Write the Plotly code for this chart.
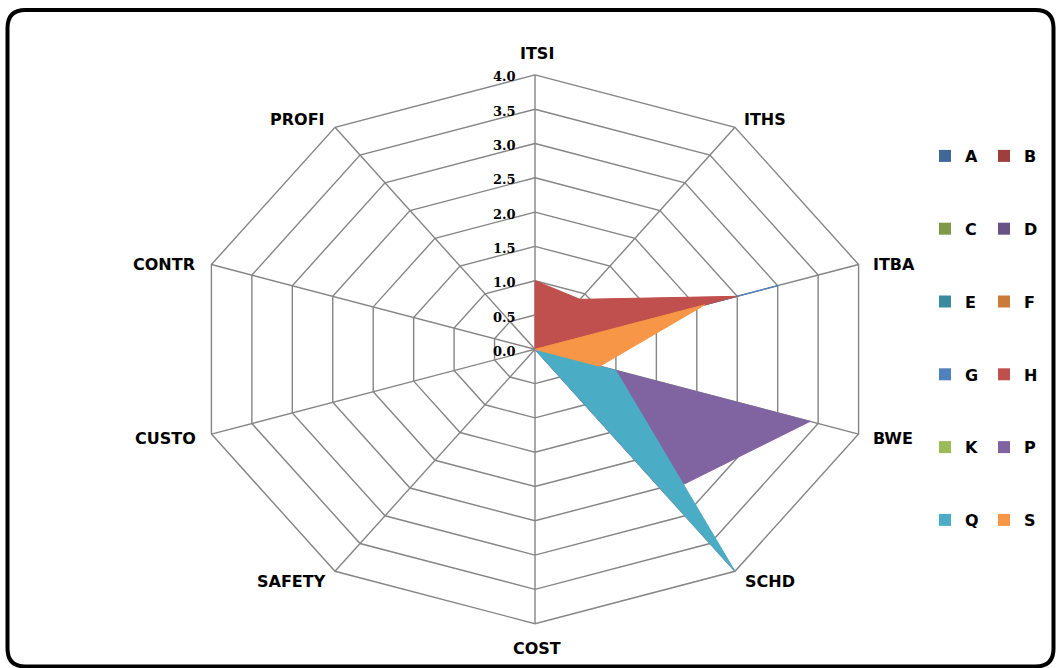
import math
import plotly.graph_objects as go

# ---- data -------------------------------------------------------------
categories = ["ITSI", "ITHS", "ITBA", "BWE", "SCHD", "COST", "SAFETY", "CUSTO", "CONTR", "PROFI"]
radial_ticks = [0.0, 0.5, 1.0, 1.5, 2.0, 2.5, 3.0, 3.5, 4.0]
tick_labels = ["0.0", "0.5", "1.0", "1.5", "2.0", "2.5", "3.0", "3.5", "4.0"]

series_names = ["A", "B", "C", "D", "E", "F", "G", "H", "K", "P", "Q", "S"]
A = [0, 0, 0, 0, 0, 0, 0, 0, 0, 0]
B = [0, 0, 0, 0, 0, 0, 0, 0, 0, 0]
C = [0, 0, 0, 0, 0, 0, 0, 0, 0, 0]
D = [0, 0, 0, 0, 0, 0, 0, 0, 0, 0]
E = [0, 0, 0, 0, 0, 0, 0, 0, 0, 0]
F = [0, 0, 0, 0, 0, 0, 0, 0, 0, 0]
G = [0, 0, 3.0, 0, 0, 0, 0, 0, 0, 0]
H = [1.0, 0.9, 2.5, 0, 0, 0, 0, 0, 0, 0]
K = [0, 0, 0, 0, 0, 0, 0, 0, 0, 0]
P = [0, 0, 0, 3.4, 2.6, 0, 0, 0, 0, 0]
Q = [0, 0, 0, 1.0, 4.0, 0, 0, 0, 0, 0]
S = [0, 0, 2.1, 0.8, 0, 0, 0, 0, 0, 0]
series_values = [A, B, C, D, E, F, G, H, K, P, Q, S]

series_colors = ["#3F6797", "#9E3F3C", "#7F9949", "#695285", "#3C8A9E", "#CB7B39",
                 "#4F81BD", "#C0504D", "#9BBB59", "#8064A2", "#4BACC6", "#F79646"]

# ---- layout geometry (pixels) -------------------------------------------
W, H_PX = 1056, 668
CX, CY = 535.0, 349.3          # centre of the web
SX, SY = 85.06, 68.6           # pixels per unit along x / y (web is wider than tall)
R_MAX = 4.0
GRID = "#858585"


def angle(i):
    return math.radians(90 - 360.0 * i / len(categories))


def to_xy(values):
    xs = [v * math.cos(angle(i)) for i, v in enumerate(values)]
    ys = [v * math.sin(angle(i)) for i, v in enumerate(values)]
    return xs + xs[:1], ys + ys[:1]


fig = go.Figure()

# rings
gx, gy = [], []
for t in radial_ticks[1:]:
    xs, ys = to_xy([t] * len(categories))
    gx += xs + [None]
    gy += ys + [None]
fig.add_trace(go.Scatter(x=gx, y=gy, mode="lines", line=dict(color=GRID, width=1.4),
                         hoverinfo="skip", showlegend=False))

# spokes
sx_, sy_ = [], []
for i in range(len(categories)):
    sx_ += [0, R_MAX * math.cos(angle(i)), None]
    sy_ += [0, R_MAX * math.sin(angle(i)), None]
fig.add_trace(go.Scatter(x=sx_, y=sy_, mode="lines", line=dict(color=GRID, width=1.4),
                         hoverinfo="skip", showlegend=False))

# filled series
for name, vals, col in zip(series_names, series_values, series_colors):
    xs, ys = to_xy(vals)
    fig.add_trace(go.Scatter(x=xs, y=ys, mode="lines", fill="toself", fillcolor=col,
                             line=dict(color=col, width=1), name=name,
                             customdata=categories + categories[:1],
                             hovertemplate=name + " %{customdata}<extra></extra>",
                             showlegend=False))

# legend entries: two columns
for k, (name, col) in enumerate(zip(series_names, series_colors)):
    fig.add_trace(go.Scatter(x=[None], y=[None], mode="markers", name=name,
                             marker=dict(symbol="square", size=12, color=col),
                             legendgroup=name,
                             legend="legend" if k % 2 == 0 else "legend2"))

# radial tick labels
for t, lab in zip(radial_ticks, tick_labels):
    fig.add_annotation(x=0, y=t, text="<b>%s</b>" % lab, showarrow=False,
                       xanchor="right", yanchor="middle", xshift=-17, yshift=-2,
                       font=dict(family="DejaVu Serif", size=13, color="black"))

# category labels
label_offsets = {
    "ITSI": ("center", "bottom", 2, 10),
    "ITHS": ("left", "middle", 7, 8),
    "ITBA": ("left", "middle", 12, 0),
    "BWE": ("left", "middle", 12, -4),
    "SCHD": ("left", "middle", 8, -10),
    "COST": ("center", "middle", 2, -25),
    "SAFETY": ("right", "middle", -7, -10),
    "CUSTO": ("right", "middle", -13, -4),
    "CONTR": ("right", "middle", -14, 0),
    "PROFI": ("right", "middle", -8, 8),
}
for i, cat in enumerate(categories):
    xa, ya, dx, dy = label_offsets[cat]
    fig.add_annotation(x=R_MAX * math.cos(angle(i)), y=R_MAX * math.sin(angle(i)),
                       text="<b>%s</b>" % cat, showarrow=False,
                       xanchor=xa, yanchor=ya, xshift=dx, yshift=dy,
                       font=dict(family="DejaVu Sans", size=16, color="black"))

# rounded border
def px(x):
    return x / W


def py(y):
    return 1 - y / H_PX


x0, x1, y0, y1, rad = 7.5, 1053.5, 10.0, 666.5, 18.0
path = (f"M {px(x0 + rad)},{py(y0)} L {px(x1 - rad)},{py(y0)} "
        f"Q {px(x1)},{py(y0)} {px(x1)},{py(y0 + rad)} "
        f"L {px(x1)},{py(y1 - rad)} Q {px(x1)},{py(y1)} {px(x1 - rad)},{py(y1)} "
        f"L {px(x0 + rad)},{py(y1)} Q {px(x0)},{py(y1)} {px(x0)},{py(y1 - rad)} "
        f"L {px(x0)},{py(y0 + rad)} Q {px(x0)},{py(y0)} {px(x0 + rad)},{py(y0)} Z")
fig.add_shape(type="path", path=path, xref="paper", yref="paper",
              line=dict(color="black", width=4), layer="above")

legend_style = dict(font=dict(family="DejaVu Sans", size=16, color="black", weight="bold"),
                    xref="paper", yref="paper", yanchor="top", xanchor="left",
                    tracegroupgap=49, itemwidth=30, bgcolor="rgba(0,0,0,0)",
                    traceorder="grouped", maxheight=640)

fig.update_layout(
    width=W, height=H_PX,
    margin=dict(l=0, r=0, t=0, b=0, autoexpand=False),
    paper_bgcolor="white", plot_bgcolor="white",
    xaxis=dict(range=[-CX / SX, (W - CX) / SX], visible=False, fixedrange=True),
    yaxis=dict(range=[-(H_PX - CY) / SY, CY / SY], visible=False, fixedrange=True),
    legend=dict(x=925 / W, y=1 - 139 / H_PX, **legend_style),
    legend2=dict(x=984 / W, y=1 - 139 / H_PX, **legend_style),
    showlegend=True,
)

fig.write_html("out.html")
